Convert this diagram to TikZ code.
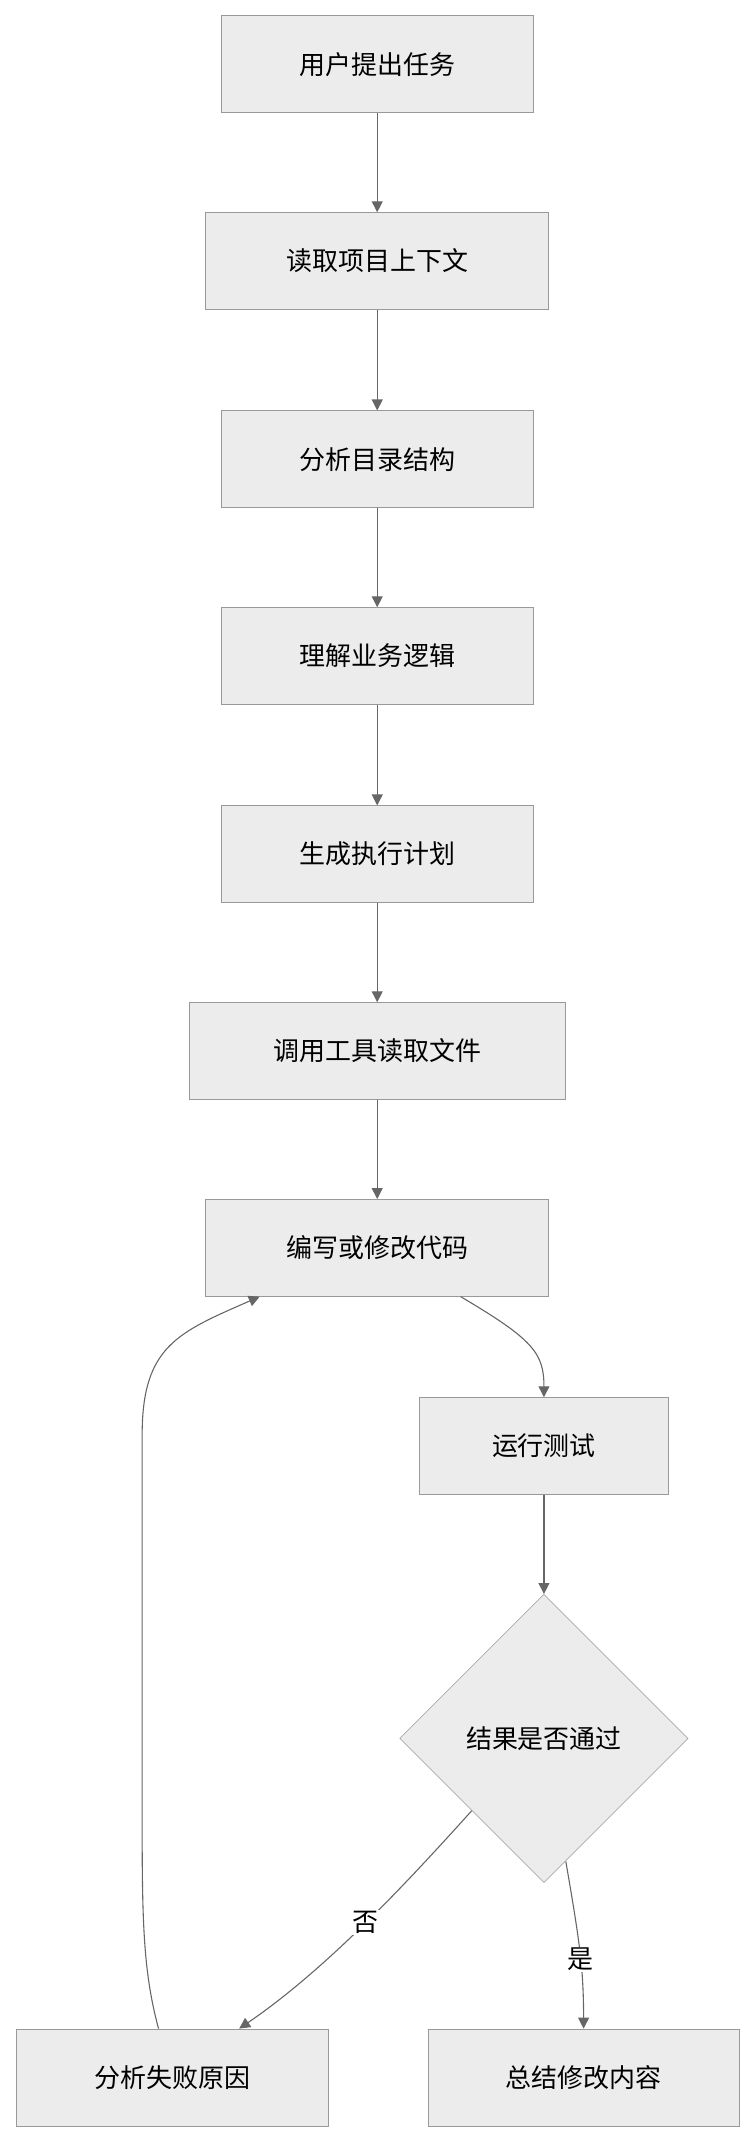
\documentclass[tikz,border=0pt]{standalone}
\usepackage{fontspec}
\setmainfont{Noto Sans CJK SC}
\usetikzlibrary{shapes.geometric, arrows.meta, positioning}
\definecolor{boxfill}{HTML}{ECECEC}
\definecolor{boxline}{HTML}{999999}
\definecolor{arrowc}{HTML}{666666}
\begin{document}
\begin{tikzpicture}[x=1pt, y=-1pt, >={Triangle[length=8pt,width=8pt]}]
	\tikzset{box/.style = {draw=boxline, fill=boxfill, minimum height=71pt, font=\fontsize{19}{22}\selectfont}}
	\tikzset{flow/.style = {->, draw=arrowc, thick}}
	\tikzset{lbl/.style = {fill=white, inner sep=1pt, font=\fontsize{19}{22}\selectfont}}
	\useasboundingbox (0,0) rectangle (553,1568);

	\node[box, minimum width=228pt] (ask) at (276,47) {用户提出任务};
	\node[box, minimum width=251pt] (ctx) at (276,191) {读取项目上下文};
	\node[box, minimum width=228pt] (dir) at (276,336) {分析目录结构};
	\node[box, minimum width=228pt] (biz) at (276,480) {理解业务逻辑};
	\node[box, minimum width=228pt] (plan) at (276,625) {生成执行计划};
	\node[box, minimum width=275pt] (tool) at (276,769) {调用工具读取文件};
	\node[box, minimum width=251pt] (code) at (276,913) {编写或修改代码};
	\node[box, minimum width=182pt] (test) at (398,1058) {运行测试};
	\node[box, diamond, aspect=1, minimum width=211pt, minimum height=211pt, inner sep=0pt] (pass) at (398,1272) {结果是否通过};
	\node[box, minimum width=228pt] (fail) at (126,1520) {分析失败原因};
	\node[box, minimum width=228pt] (sum) at (427,1520) {总结修改内容};

	\draw[flow] (code.south -| 337,0) .. controls (390,980) and (398,990) .. (test.north);
	\draw[flow] (ask) -- (ctx);
	\draw[flow] (ctx) -- (dir);
	\draw[flow] (dir) -- (biz);
	\draw[flow] (biz) -- (plan);
	\draw[flow] (plan) -- (tool);
	\draw[flow] (tool) -- (code);
	\draw[flow] (test) -- (pass);
	\draw[flow] (pass.south west) .. controls (300,1375) and (240,1440) .. node[lbl, pos=0.5] {否} (fail.north -| 175,0);
	\draw[flow] (414,1362) .. controls (424,1420) and (427,1440) .. node[lbl, pos=0.55] {是} (sum.north);
	\draw[flow] (fail.north -| 116,0) .. controls (104,1440) and (104,1400) .. (104,1320) -- (104,1050) .. controls (104,985) and (130,975) .. (code.south -| 190,0);
\end{tikzpicture}
\end{document}
